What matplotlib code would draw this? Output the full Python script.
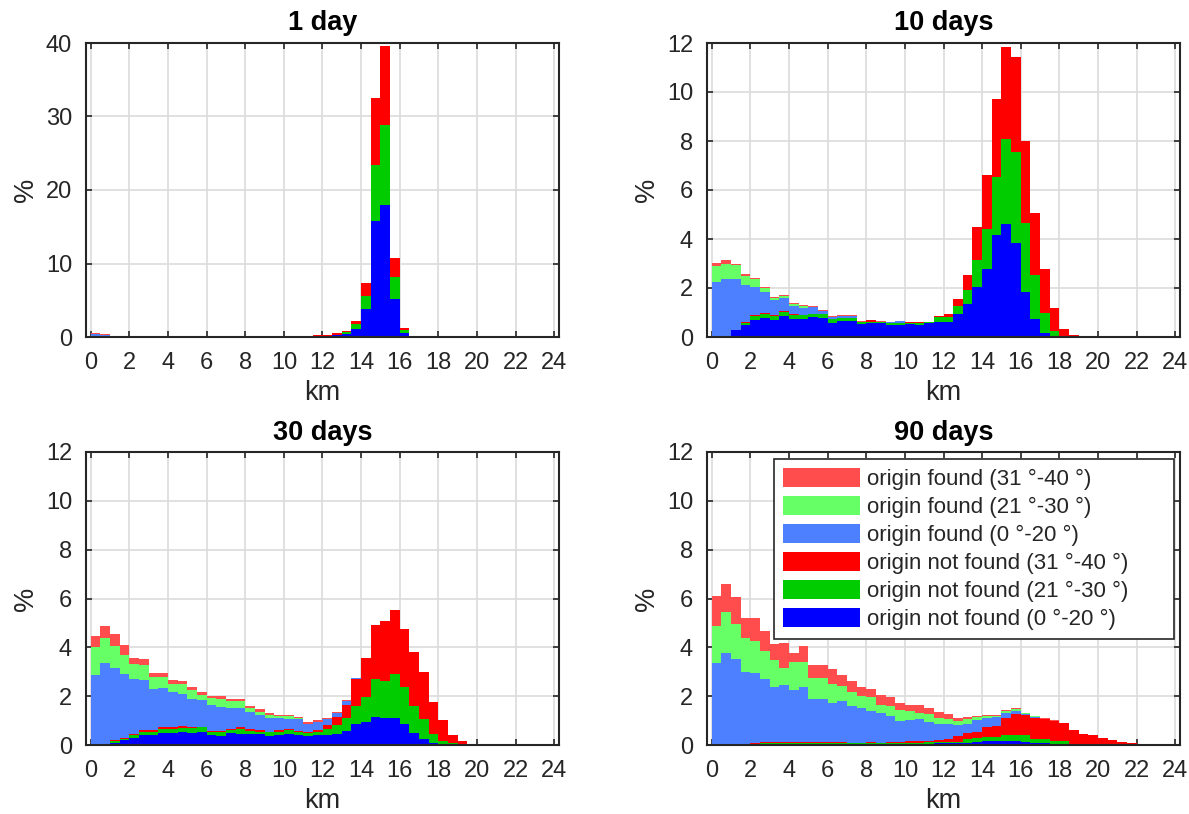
import numpy as np
import matplotlib
matplotlib.use('Agg')
import matplotlib.pyplot as plt
from matplotlib.patches import Patch

plt.rcParams['font.family'] = ['Liberation Sans', 'DejaVu Sans']

N_BINS = 48
BIN_WIDTH = 0.5
bin_edges = np.arange(N_BINS) * BIN_WIDTH

labels = [
    'origin not found (0 °-20 °)',
    'origin not found (21 °-30 °)',
    'origin not found (31 °-40 °)',
    'origin found (0 °-20 °)',
    'origin found (21 °-30 °)',
    'origin found (31 °-40 °)',
]
colors = ['#0000ff', '#00cc00', '#ff0000', '#4d80ff', '#66ff66', '#ff4d4d']

titles = ['1 day', '10 days', '30 days', '90 days']
y_limits = [40, 12, 12, 12]
y_steps = [10, 2, 2, 2]


def pad(values):
    out = np.zeros(N_BINS)
    out[:len(values)] = values
    return out


# 1 day -- share (%) per 0.5 km bin, one list per category
day1_nf_low = pad([0, 0, 0, 0, 0, 0, 0, 0, 0, 0, 0, 0, 0, 0, 0, 0, 0, 0, 0, 0, 0, 0, 0,
                   0.2, 0.2, 0.27, 0.45, 1.1, 3.8, 15.8, 18.0, 5.2, 0.55])
day1_nf_mid = pad([0, 0, 0, 0, 0, 0, 0, 0, 0, 0, 0, 0, 0, 0, 0, 0, 0, 0, 0, 0, 0, 0, 0,
                   0, 0, 0, 0.25, 0.7, 1.8, 7.6, 10.9, 3.0, 0.45])
day1_nf_high = pad([0, 0, 0.1, 0.1, 0.1, 0.1, 0.1, 0.1, 0, 0.1, 0.1, 0.1, 0.1, 0.1, 0.1, 0.1,
                    0, 0.1, 0, 0.1, 0.1, 0.1, 0.1, 0.1, 0.1, 0.23, 0.1, 0.4, 1.8, 9.1, 10.7,
                    2.5, 0.2, 0.1])
day1_f_low = pad([0.45, 0.27])
day1_f_mid = pad([0, 0])
day1_f_high = pad([0.15, 0.13])

# 10 days
day10_nf_low = pad([0, 0, 0.30, 0.48, 0.69, 0.79, 0.69, 0.87, 0.75, 0.75, 0.83, 0.79, 0.57,
                    0.65, 0.65, 0.54, 0.56, 0.56, 0.49, 0.49, 0.53, 0.49, 0.56, 0.61, 0.61,
                    0.94, 1.35, 2.04, 2.78, 4.17, 4.62, 3.84, 1.84, 0.74, 0.16])
day10_nf_mid = pad([0, 0, 0, 0.11, 0.18, 0.16, 0.18, 0.15, 0.15, 0.15, 0.12, 0.16, 0.18,
                    0.13, 0.13, 0.09, 0.07, 0.07, 0.08, 0.08, 0.06, 0.07, 0.04, 0.19, 0.22,
                    0.34, 0.57, 1.11, 1.63, 2.37, 3.45, 3.72, 2.82, 1.79, 0.82, 0.25, 0.04])
day10_nf_high = pad([0, 0, 0, 0.04, 0.03, 0.03, 0.03, 0.03, 0.04, 0, 0, 0, 0, 0, 0, 0,
                     0.05, 0, 0, 0, 0.02, 0.05, 0.01, 0.06, 0.11, 0.27, 0.60, 1.33, 2.20,
                     3.17, 3.77, 3.87, 3.34, 2.52, 1.79, 0.92, 0.27, 0.08])
day10_f_low = pad([2.23, 2.37, 2.07, 1.50, 1.14, 0.87, 0.59, 0.54, 0.33, 0.30, 0.28, 0.11,
                   0.05, 0.09, 0.09, 0, 0, 0, 0.03, 0.07])
day10_f_mid = pad([0.67, 0.60, 0.55, 0.36, 0.32, 0.17, 0.12, 0.10, 0.09, 0.08])
day10_f_high = pad([0.11, 0.18, 0.06, 0.08, 0.04, 0.02, 0.04, 0.03, 0.04, 0.03, 0.02, 0.04,
                    0.06, 0.03, 0.03, 0.02, 0, 0.02, 0.01, 0.01])

# 30 days
day30_nf_low = pad([0, 0, 0.10, 0.19, 0.27, 0.40, 0.40, 0.48, 0.48, 0.55, 0.48, 0.52, 0.40,
                    0.35, 0.48, 0.46, 0.44, 0.44, 0.35, 0.40, 0.46, 0.42, 0.35, 0.42, 0.40,
                    0.46, 0.59, 0.87, 0.95, 1.16, 1.12, 1.12, 0.87, 0.50, 0.26, 0.10, 0.03])
day30_nf_mid = pad([0, 0, 0.06, 0.07, 0.14, 0.15, 0.15, 0.19, 0.19, 0.13, 0.23, 0.20, 0.15,
                    0.20, 0.15, 0.21, 0.15, 0.11, 0.17, 0.15, 0.14, 0.13, 0.13, 0.13, 0.27,
                    0.37, 0.53, 0.74, 1.03, 1.55, 1.51, 1.80, 1.52, 1.11, 0.82, 0.36, 0.15,
                    0.07])
day30_nf_high = pad([0, 0, 0.06, 0.04, 0.05, 0.05, 0.08, 0.08, 0.08, 0.11, 0.04, 0.03, 0.04,
                     0.04, 0.04, 0.08, 0.08, 0.08, 0.03, 0.08, 0.07, 0.04, 0.07, 0.08, 0.16,
                     0.33, 0.53, 1.10, 1.59, 2.21, 2.46, 2.62, 2.37, 2.21, 1.92, 1.31, 0.86,
                     0.35, 0.18, 0.05])
day30_f_low = pad([2.88, 3.37, 2.95, 2.62, 2.25, 2.07, 1.68, 1.60, 1.43, 1.31, 1.15, 1.11,
                   1.06, 0.98, 0.86, 0.78, 0.69, 0.61, 0.57, 0.49, 0.41, 0.49, 0.32, 0.32,
                   0.25, 0.16, 0.16, 0.05])
day30_f_mid = pad([1.12, 1.02, 0.90, 0.78, 0.62, 0.62, 0.49, 0.45, 0.33, 0.41, 0.36, 0.20,
                   0.29, 0.33, 0.28, 0.28, 0.17, 0.12, 0.12, 0.08, 0.12, 0.04])
day30_f_high = pad([0.47, 0.49, 0.49, 0.41, 0.24, 0.24, 0.16, 0.16, 0.16, 0.12, 0.13, 0.12,
                    0.08, 0.12, 0.09, 0.09, 0.08, 0.13, 0.08, 0.04, 0.04, 0.04, 0.08, 0.09,
                    0.04, 0.04, 0.03])

# 90 days
day90_nf_low = pad([0, 0, 0, 0, 0.02, 0.03, 0.03, 0.03, 0.03, 0.03, 0.03, 0.03, 0.03, 0.05,
                    0.03, 0.03, 0.05, 0.03, 0.03, 0.03, 0.04, 0.04, 0.05, 0.07, 0.07, 0.07,
                    0.10, 0.12, 0.16, 0.16, 0.16, 0.16, 0.14, 0.08, 0.08, 0.05, 0.03])
day90_nf_mid = pad([0, 0, 0, 0, 0.03, 0.04, 0.04, 0.04, 0.04, 0.04, 0.05, 0.05, 0.04, 0.03,
                    0.04, 0.04, 0.03, 0.04, 0.04, 0.05, 0.05, 0.06, 0.07, 0.07, 0.07, 0.07,
                    0.16, 0.18, 0.15, 0.18, 0.24, 0.26, 0.26, 0.18, 0.18, 0.13, 0.15, 0.04])
day90_nf_high = pad([0, 0, 0.05, 0.05, 0.03, 0.04, 0.05, 0.04, 0.05, 0.05, 0.04, 0.04, 0.04,
                     0.04, 0.03, 0.03, 0.04, 0.03, 0.04, 0.06, 0.06, 0.06, 0.06, 0.08, 0.12,
                     0.21, 0.22, 0.25, 0.44, 0.45, 0.72, 0.86, 0.81, 0.83, 0.82, 0.82, 0.73,
                     0.59, 0.46, 0.42, 0.30, 0.19, 0.14, 0.08, 0.05, 0.04])
day90_f_low = pad([3.37, 3.78, 3.48, 2.95, 2.88, 2.60, 2.27, 2.36, 2.14, 2.27, 1.78, 1.78,
                   1.62, 1.69, 1.51, 1.43, 1.29, 1.22, 1.09, 0.86, 0.89, 0.92, 0.77, 0.65,
                   0.61, 0.48, 0.39, 0.49, 0.37, 0.37, 0.20, 0.13, 0.06, 0.06])
day90_f_mid = pad([1.51, 1.68, 1.44, 1.39, 1.31, 1.15, 1.10, 0.70, 1.15, 1.02, 0.86, 0.86,
                   0.78, 0.62, 0.57, 0.49, 0.57, 0.33, 0.41, 0.45, 0.37, 0.24, 0.33, 0.25,
                   0.21, 0.17, 0.18, 0.12, 0.08, 0.04, 0.07, 0.06, 0.03, 0.02])
day90_f_high = pad([1.23, 1.14, 1.10, 0.82, 0.94, 0.82, 0.66, 1.02, 0.37, 0.66, 0.53, 0.53,
                    0.61, 0.45, 0.45, 0.37, 0.33, 0.41, 0.37, 0.28, 0.24, 0.33, 0.25, 0.24,
                    0.20, 0.12, 0.11, 0.04, 0.04, 0.04, 0.04, 0.06, 0.01, 0.02, 0.04, 0.02])

panels = [
    [day1_nf_low, day1_nf_mid, day1_nf_high, day1_f_low, day1_f_mid, day1_f_high],
    [day10_nf_low, day10_nf_mid, day10_nf_high, day10_f_low, day10_f_mid, day10_f_high],
    [day30_nf_low, day30_nf_mid, day30_nf_high, day30_f_low, day30_f_mid, day30_f_high],
    [day90_nf_low, day90_nf_mid, day90_nf_high, day90_f_low, day90_f_mid, day90_f_high],
]

W, H = 1189, 814
# axes boxes in pixels: left, top, right, bottom
boxes = [(86, 43, 559, 337), (707, 43, 1180, 337),
         (86, 452, 559, 745), (707, 452, 1180, 745)]

fig = plt.figure(figsize=(W / 100, H / 100), dpi=100)
dark = '#262626'

for i, (series, box) in enumerate(zip(panels, boxes)):
    l, t, r, b = box
    ax = fig.add_axes([l / W, (H - b) / H, (r - l) / W, (b - t) / H])
    ax.set_axisbelow(True)
    bottom = np.zeros(N_BINS)
    for vals, c in zip(series, colors):
        ax.bar(bin_edges, vals, width=BIN_WIDTH, bottom=bottom, align='edge',
               color=c, linewidth=0)
        bottom = bottom + vals

    ax.set_xlim(-0.25, 24.25)
    ax.set_ylim(0, y_limits[i])
    ax.set_xticks(np.arange(0, 25, 2))
    ax.set_yticks(np.arange(0, y_limits[i] + 1, y_steps[i]))
    ax.grid(True, color='#dcdcdc', linewidth=1.2)
    ax.tick_params(direction='in', top=True, right=True, length=4, width=1.2,
                   colors=dark, labelsize=17)
    ax.tick_params(axis='x', pad=11)
    ax.tick_params(axis='y', pad=10)
    for sp in ax.spines.values():
        sp.set_color(dark)
        sp.set_linewidth(1.5)
    ax.set_title(titles[i], fontsize=19.5, fontweight='bold', pad=9)
    ax.set_xlabel('km', fontsize=19.5, color=dark, labelpad=4)
    ax.set_ylabel('%', fontsize=19.5, color=dark, labelpad=5)

    if i == 3:
        handles = [Patch(facecolor=c, edgecolor='none') for c in colors][::-1]
        leg = ax.legend(handles, labels[::-1], loc='upper left',
                        bbox_to_anchor=(0.1416, 0.0, 0.8457, 0.976), mode='expand',
                        fontsize=16, frameon=True, fancybox=False, framealpha=1,
                        edgecolor=dark, handlelength=3.45, handleheight=0.92,
                        labelspacing=0.27, borderaxespad=0.0, borderpad=0.4,
                        handletextpad=0.35)
        leg.get_frame().set_linewidth(1.2)
        for txt in leg.get_texts():
            txt.set_color(dark)

fig.savefig('out.png', dpi=100)
